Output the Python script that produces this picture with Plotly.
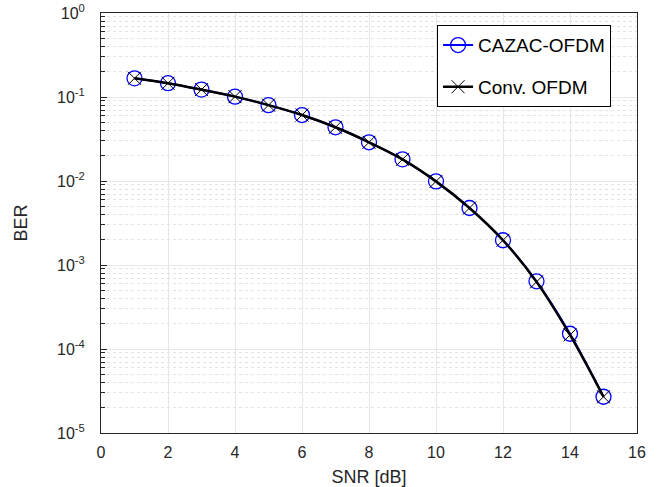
import plotly.graph_objects as go

snr_db = [1, 2, 3, 4, 5, 6, 7, 8, 9, 10, 11, 12, 13, 14, 15]
ber_cazac = [0.167, 0.146, 0.1225, 0.101, 0.080, 0.061, 0.0436, 0.0289, 0.0181, 0.0099, 0.00477, 0.00197, 0.00064, 0.000152, 2.7e-5]
ber_conv = [0.167, 0.146, 0.1225, 0.101, 0.080, 0.061, 0.0436, 0.0289, 0.0181, 0.0099, 0.00477, 0.00197, 0.00063, 0.000147, 2.7e-5]

y_tickvals = [1, 1e-1, 1e-2, 1e-3, 1e-4, 1e-5]
y_ticktext = ["10<sup>0</sup>", "10<sup>-1</sup>", "10<sup>-2</sup>", "10<sup>-3</sup>", "10<sup>-4</sup>", "10<sup>-5</sup>"]
x_tickvals = [0, 2, 4, 6, 8, 10, 12, 14, 16]

fig = go.Figure()
fig.add_trace(go.Scatter(
    x=snr_db, y=ber_cazac, name="CAZAC-OFDM", mode="lines+markers", legendgroup="a",
    line=dict(color="#0000ff", width=2, shape="spline"),
    marker=dict(symbol="circle-open", size=15, color="#0000ff", line=dict(width=1.3)),
))
fig.add_trace(go.Scatter(
    x=snr_db, y=ber_conv, name="Conv. OFDM", mode="lines+markers", legendgroup="b",
    line=dict(color="#000000", width=2.5, shape="spline"),
    marker=dict(symbol="x-thin-open", size=13, color="#000000", line=dict(width=1, color="#000000")),
))

fig.update_layout(
    width=660, height=487,
    margin=dict(l=101, r=23, t=13, b=54, autoexpand=False),
    paper_bgcolor="white", plot_bgcolor="white",
    font=dict(family="Liberation Sans, Arial, sans-serif", size=16, color="#262626"),
    showlegend=True,
    legend=dict(
        x=0.627, y=0.971, xanchor="left", yanchor="top",
        bgcolor="white", bordercolor="black", borderwidth=1,
        font=dict(size=19, color="black"),
        tracegroupgap=14, traceorder="grouped",
    ),
)
fig.update_xaxes(
    range=[0, 16], tickvals=x_tickvals, automargin=False,
    title=dict(text="SNR [dB]", font=dict(size=18), standoff=10),
    showline=True, linecolor="#262626", linewidth=1, mirror=True,
    showgrid=True, gridcolor="#e6e6e6", gridwidth=1,
    ticks="", ticklabelstandoff=5, zeroline=False,
)
fig.update_yaxes(
    type="log", range=[-5, 0], tickvals=y_tickvals, ticktext=y_ticktext, automargin=False,
    title=dict(text="BER", font=dict(size=18), standoff=24),
    showline=True, linecolor="#262626", linewidth=1, mirror=True,
    showgrid=True, gridcolor="#e6e6e6", gridwidth=1,
    ticks="inside", ticklen=6, tickcolor="#262626",
    ticklabelstandoff=12, ticklabeloverflow="allow",
    minor=dict(dtick="D1", showgrid=True, gridcolor="#e3e3e3", griddash="dot",
               ticks="inside", ticklen=4, tickcolor="#262626"),
    zeroline=False,
)

fig.write_html(
    "out.html",
    config={"displayModeBar": False},
    post_script="document.body.style.margin='0';document.body.style.overflow='hidden';",
)
